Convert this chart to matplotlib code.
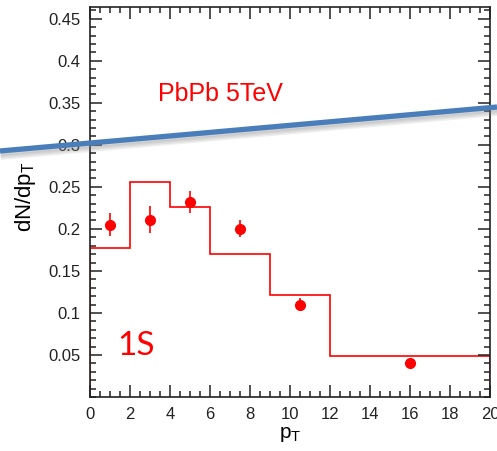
import numpy as np
import matplotlib
matplotlib.use('Agg')
import matplotlib.pyplot as plt
from matplotlib.lines import Line2D
from matplotlib.ticker import MultipleLocator
import matplotlib.patheffects as pe

plt.rcParams['font.family'] = ['Liberation Sans', 'DejaVu Sans']

# histogram (model) bins and values
bin_edges = [0, 2, 4, 6, 9, 12, 20]
hist_vals = [0.177, 0.256, 0.226, 0.170, 0.121, 0.049]

# data points
pt_pts = [1, 3, 5, 7.5, 10.5, 16]
y_pts = [0.205, 0.211, 0.232, 0.200, 0.110, 0.040]
y_err = [0.014, 0.016, 0.013, 0.010, 0.008, 0.004]

fig = plt.figure(figsize=(4.97, 4.51), dpi=100)
ax = fig.add_axes([90/497, 54/451, 400/497, 390/451])

ax.stairs(hist_vals, bin_edges, color='red', lw=1.2)
ax.errorbar(pt_pts, y_pts, yerr=y_err, fmt='o', color='red', ms=7,
            elinewidth=1.2, capsize=0)

ax.set_xlim(0, 20)
ax.set_ylim(0, 0.464)
ax.xaxis.set_major_locator(MultipleLocator(2))
ax.xaxis.set_minor_locator(MultipleLocator(0.5))
ax.yaxis.set_minor_locator(MultipleLocator(0.01))
ax.set_yticks([0.05, 0.1, 0.15, 0.2, 0.25, 0.3, 0.35, 0.4, 0.45])
ax.set_yticklabels(['0.05', '0.1', '0.15', '0.2', '0.25', '0.3', '0.35', '0.4', '0.45'])
ax.tick_params(which='both', direction='in', top=True, right=True, width=1.1,
               labelsize=12, colors='#222222')
ax.tick_params(which='major', length=8.5)
ax.tick_params(which='minor', length=4.5)
ax.tick_params(axis='y', pad=7)
ax.tick_params(axis='x', pad=7)
for s in ax.spines.values():
    s.set_linewidth(1.2)
    s.set_color('#222222')

ax.set_xlabel('p$_\\mathregular{T}$', fontsize=15, labelpad=2)
ax.set_ylabel('dN/dp$_\\mathregular{T}$', fontsize=16)
ax.yaxis.set_label_coords(-0.13, 0.513)

ax.text(0.17, 0.759, 'PbPb 5TeV', color='red', fontsize=18, transform=ax.transAxes)
ax.text(0.068, 0.108, '1S', color='red', fontsize=24, family='Lato',
        transform=ax.transAxes)

# blue overlay line running across the whole figure, soft shadow below
shadow = [pe.SimpleLineShadow(offset=(0.5, -1.5 - k), shadow_color='gray',
                              alpha=0.12, linewidth=4) for k in range(4)]
line = Line2D([0, 1], [1 - 151/451, 1 - 107/451], transform=fig.transFigure,
              color='#4a7ebb', lw=3.8, solid_capstyle='butt',
              path_effects=shadow + [pe.Normal()])
fig.add_artist(line)

fig.savefig('out.png', dpi=100)
